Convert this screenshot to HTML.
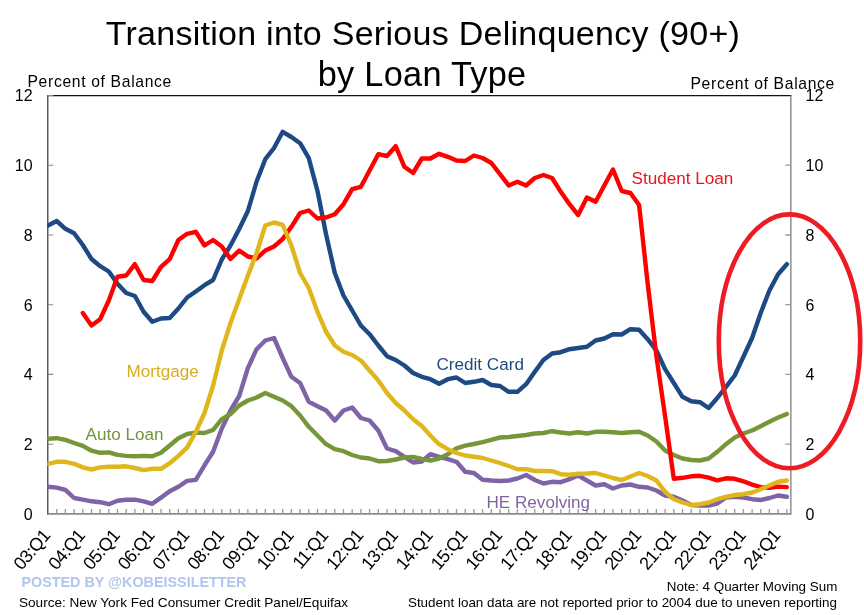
<!DOCTYPE html>
<html><head><meta charset="utf-8"><title>Transition into Serious Delinquency (90+) by Loan Type</title>
<style>html,body{margin:0;padding:0;background:#fff;}svg{display:block;}</style></head>
<body><svg width="864" height="615" viewBox="0 0 864 615">
<rect x="0" y="0" width="864" height="615" fill="#fff"/>
<line x1="47.75" y1="95.5" x2="791.5999999999999" y2="95.5" stroke="#141414" stroke-width="1.25"/>
<line x1="47.75" y1="94.9" x2="47.75" y2="514.6999999999999" stroke="#5a5a5a" stroke-width="1.5"/>
<line x1="790.8" y1="95.5" x2="790.8" y2="514.6999999999999" stroke="#999" stroke-width="1.7"/>
<line x1="47.75" y1="513.9" x2="790.8" y2="513.9" stroke="#8a8a8a" stroke-width="1.6"/>
<path d="M56.7 513.9v-5M65.4 513.9v-5M74.1 513.9v-5M82.8 513.9v-5M91.5 513.9v-5M100.2 513.9v-5M108.8 513.9v-5M117.5 513.9v-5M126.2 513.9v-5M134.9 513.9v-5M143.6 513.9v-5M152.3 513.9v-5M161.0 513.9v-5M169.7 513.9v-5M178.4 513.9v-5M187.1 513.9v-5M195.8 513.9v-5M204.5 513.9v-5M213.1 513.9v-5M221.8 513.9v-5M230.5 513.9v-5M239.2 513.9v-5M247.9 513.9v-5M256.6 513.9v-5M265.3 513.9v-5M274.0 513.9v-5M282.7 513.9v-5M291.4 513.9v-5M300.1 513.9v-5M308.8 513.9v-5M317.5 513.9v-5M326.1 513.9v-5M334.8 513.9v-5M343.5 513.9v-5M352.2 513.9v-5M360.9 513.9v-5M369.6 513.9v-5M378.3 513.9v-5M387.0 513.9v-5M395.7 513.9v-5M404.4 513.9v-5M413.1 513.9v-5M421.8 513.9v-5M430.4 513.9v-5M439.1 513.9v-5M447.8 513.9v-5M456.5 513.9v-5M465.2 513.9v-5M473.9 513.9v-5M482.6 513.9v-5M491.3 513.9v-5M500.0 513.9v-5M508.7 513.9v-5M517.4 513.9v-5M526.1 513.9v-5M534.8 513.9v-5M543.4 513.9v-5M552.1 513.9v-5M560.8 513.9v-5M569.5 513.9v-5M578.2 513.9v-5M586.9 513.9v-5M595.6 513.9v-5M604.3 513.9v-5M613.0 513.9v-5M621.7 513.9v-5M630.4 513.9v-5M639.1 513.9v-5M647.7 513.9v-5M656.4 513.9v-5M665.1 513.9v-5M673.8 513.9v-5M682.5 513.9v-5M691.2 513.9v-5M699.9 513.9v-5M708.6 513.9v-5M717.3 513.9v-5M726.0 513.9v-5M734.7 513.9v-5M743.4 513.9v-5M752.1 513.9v-5M760.7 513.9v-5M769.4 513.9v-5M778.1 513.9v-5M786.8 513.9v-5M790.8 444.2h-5.5M790.8 374.4h-5.5M790.8 304.7h-5.5M790.8 235.0h-5.5M790.8 165.2h-5.5" stroke="#999" stroke-width="1.3" fill="none"/>
<path d="M47.75 444.2h5.5M47.75 374.4h5.5M47.75 304.7h5.5M47.75 235.0h5.5M47.75 165.2h5.5M47.75 95.5h5.5" stroke="#888" stroke-width="1.1" fill="none"/>
<clipPath id="pc"><rect x="47.25" y="95.5" width="744.05" height="418.4"/></clipPath><g clip-path="url(#pc)">
<polyline points="48.0,486.8 56.7,487.6 65.4,489.9 74.1,498.0 82.8,499.7 91.5,501.3 100.2,502.2 108.8,504.2 117.5,500.7 126.2,499.7 134.9,499.7 143.6,501.3 152.3,503.8 161.0,497.6 169.7,491.3 178.4,486.8 187.1,480.9 195.8,479.9 204.5,465.3 213.1,451.8 221.8,428.5 230.5,410.5 239.2,396.0 247.9,368.0 256.6,349.2 265.3,340.5 274.0,338.0 282.7,358.0 291.4,376.8 300.1,383.0 308.8,401.8 317.5,406.2 326.1,410.5 334.8,420.5 343.5,410.5 352.2,407.5 360.9,418.0 369.6,420.5 378.3,430.5 387.0,448.5 395.7,451.2 404.4,456.8 413.1,462.5 421.8,461.5 430.4,454.2 439.1,456.8 447.8,459.2 456.5,461.8 465.2,471.8 473.9,473.0 482.6,479.8 491.3,480.5 500.0,481.0 508.7,480.5 517.4,478.5 526.1,475.0 534.8,480.0 543.4,483.5 552.1,481.8 560.8,482.2 569.5,479.2 578.2,475.5 586.9,480.5 595.6,485.5 604.3,484.2 613.0,488.5 621.7,485.5 630.4,484.5 639.1,486.8 647.7,487.5 656.4,490.5 665.1,495.5 673.8,496.8 682.5,500.5 691.2,505.0 699.9,505.5 708.6,505.5 717.3,503.5 726.0,497.5 734.7,496.8 743.4,497.5 752.1,499.2 760.7,500.0 769.4,498.0 778.1,495.5 786.8,496.8" fill="none" stroke="#7e63a6" stroke-width="4.4" stroke-linejoin="round" stroke-linecap="round"/>
<polyline points="48.0,438.8 56.7,438.2 65.4,439.9 74.1,443.0 82.8,445.9 91.5,450.7 100.2,452.8 108.8,452.4 117.5,454.9 126.2,455.9 134.9,456.3 143.6,455.9 152.3,456.3 161.0,452.8 169.7,445.5 178.4,438.2 187.1,434.0 195.8,432.6 204.5,433.0 213.1,429.9 221.8,419.2 230.5,414.2 239.2,405.5 247.9,400.5 256.6,397.5 265.3,393.0 274.0,396.8 282.7,400.5 291.4,406.2 300.1,415.5 308.8,426.8 317.5,435.5 326.1,444.2 334.8,449.2 343.5,451.2 352.2,455.0 360.9,457.5 369.6,458.5 378.3,461.2 387.0,461.0 395.7,459.5 404.4,457.5 413.1,457.0 421.8,459.0 430.4,460.5 439.1,458.5 447.8,454.2 456.5,448.3 465.2,445.7 473.9,444.0 482.6,442.2 491.3,439.8 500.0,437.5 508.7,437.0 517.4,436.0 526.1,435.0 534.8,433.5 543.4,433.0 552.1,431.2 560.8,432.5 569.5,433.5 578.2,432.2 586.9,433.5 595.6,431.8 604.3,431.8 613.0,432.2 621.7,433.0 630.4,432.2 639.1,431.8 647.7,435.5 656.4,441.5 665.1,450.5 673.8,455.0 682.5,458.5 691.2,460.0 699.9,460.5 708.6,458.5 717.3,451.8 726.0,444.2 734.7,437.5 743.4,433.5 752.1,430.5 760.7,426.2 769.4,421.8 778.1,417.5 786.8,414.0" fill="none" stroke="#769739" stroke-width="4.4" stroke-linejoin="round" stroke-linecap="round"/>
<polyline points="48.0,225.5 56.7,221.0 65.4,228.8 74.1,233.2 82.8,245.0 91.5,259.0 100.2,266.2 108.8,271.5 117.5,283.8 126.2,293.0 134.9,296.0 143.6,311.8 152.3,321.8 161.0,318.5 169.7,318.0 178.4,308.5 187.1,297.5 195.8,291.5 204.5,285.2 213.1,280.0 221.8,259.5 230.5,245.5 239.2,229.0 247.9,211.0 256.6,181.5 265.3,159.2 274.0,148.0 282.7,131.8 291.4,137.0 300.1,143.2 308.8,158.2 317.5,191.0 326.1,234.5 334.8,273.0 343.5,295.5 352.2,310.5 360.9,325.5 369.6,334.2 378.3,345.5 387.0,356.2 395.7,360.0 404.4,365.5 413.1,373.0 421.8,376.8 430.4,379.2 439.1,383.8 447.8,379.2 456.5,377.5 465.2,383.0 473.9,381.8 482.6,380.0 491.3,385.0 500.0,386.0 508.7,391.8 517.4,391.8 526.1,384.2 534.8,371.8 543.4,360.0 552.1,353.5 560.8,352.2 569.5,349.2 578.2,348.0 586.9,346.8 595.6,340.5 604.3,338.5 613.0,334.2 621.7,334.5 630.4,329.2 639.1,329.8 647.7,339.2 656.4,350.5 665.1,369.2 673.8,383.0 682.5,396.8 691.2,401.2 699.9,402.2 708.6,408.0 717.3,398.0 726.0,386.8 734.7,375.5 743.4,356.8 752.1,338.0 760.7,313.0 769.4,290.5 778.1,274.2 786.8,264.2" fill="none" stroke="#1e4a84" stroke-width="4.4" stroke-linejoin="round" stroke-linecap="round"/>
<polyline points="82.8,313.0 91.5,325.5 100.2,319.2 108.8,300.5 117.5,276.8 126.2,275.5 134.9,264.2 143.6,280.0 152.3,281.0 161.0,266.8 169.7,259.2 178.4,240.0 187.1,233.8 195.8,231.8 204.5,245.5 213.1,240.0 221.8,246.5 230.5,259.0 239.2,250.5 247.9,256.5 256.6,258.5 265.3,250.5 274.0,246.5 282.7,239.0 291.4,226.8 300.1,213.0 308.8,210.5 317.5,218.5 326.1,217.5 334.8,214.2 343.5,204.2 352.2,189.2 360.9,186.8 369.6,170.5 378.3,154.2 387.0,156.0 395.7,146.2 404.4,166.8 413.1,173.0 421.8,158.5 430.4,158.5 439.1,153.8 447.8,156.8 456.5,160.5 465.2,161.0 473.9,155.5 482.6,158.0 491.3,163.0 500.0,174.2 508.7,185.5 517.4,181.8 526.1,185.5 534.8,178.0 543.4,175.0 552.1,178.0 560.8,191.8 569.5,204.2 578.2,215.0 586.9,197.5 595.6,201.8 604.3,185.5 613.0,169.5 621.7,191.0 630.4,193.0 639.1,205.0 647.7,283.8 656.4,356.2 665.1,416.2 673.8,478.8 682.5,477.8 691.2,476.3 699.9,475.8 708.6,477.6 717.3,480.3 726.0,478.3 734.7,478.8 743.4,481.3 752.1,484.6 760.7,487.1 769.4,487.8 778.1,486.6 786.8,487.1" fill="none" stroke="#ff0000" stroke-width="4.4" stroke-linejoin="round" stroke-linecap="round"/>
<polyline points="48.0,463.8 56.7,461.8 65.4,461.8 74.1,463.8 82.8,467.4 91.5,469.5 100.2,467.4 108.8,466.8 117.5,466.8 126.2,466.3 134.9,468.0 143.6,470.1 152.3,468.8 161.0,468.8 169.7,463.2 178.4,455.9 187.1,447.6 195.8,432.0 204.5,413.0 213.1,385.5 221.8,350.5 230.5,323.0 239.2,299.2 247.9,275.5 256.6,253.0 265.3,225.5 274.0,222.5 282.7,224.8 291.4,245.5 300.1,273.0 308.8,288.0 317.5,311.8 326.1,331.8 334.8,345.5 343.5,351.8 352.2,355.0 360.9,360.5 369.6,370.5 378.3,380.5 387.0,393.0 395.7,403.0 404.4,410.5 413.1,419.2 421.8,426.0 430.4,435.5 439.1,444.2 447.8,449.2 456.5,453.0 465.2,455.5 473.9,456.8 482.6,458.0 491.3,460.5 500.0,463.0 508.7,466.0 517.4,469.2 526.1,469.2 534.8,471.0 543.4,471.0 552.1,471.2 560.8,474.2 569.5,474.8 578.2,473.8 586.9,473.5 595.6,473.0 604.3,475.5 613.0,478.0 621.7,480.0 630.4,476.5 639.1,473.0 647.7,476.0 656.4,480.5 665.1,491.8 673.8,499.2 682.5,502.5 691.2,505.0 699.9,504.2 708.6,502.5 717.3,499.2 726.0,496.8 734.7,495.0 743.4,494.2 752.1,492.5 760.7,489.2 769.4,485.5 778.1,481.8 786.8,480.5" fill="none" stroke="#dfb61b" stroke-width="4.4" stroke-linejoin="round" stroke-linecap="round"/>
</g>
<ellipse cx="789.5" cy="341.3" rx="70.7" ry="126.9" fill="none" stroke="#ed1c24" stroke-width="4.6"/>
<g font-family="'Liberation Sans', Arial, sans-serif" fill="#000">
<text x="422.9" y="44.9" font-size="34" letter-spacing="0.27" text-anchor="middle">Transition into Serious Delinquency (90+)</text>
<text x="422.1" y="85.7" font-size="34.3" letter-spacing="0.28" text-anchor="middle">by Loan Type</text>
<text x="27.5" y="87.4" font-size="15.7" letter-spacing="0.66">Percent of Balance</text>
<text x="690.5" y="88.6" font-size="15.7" letter-spacing="0.66">Percent of Balance</text>
<text x="32.6" y="519.8" font-size="16" text-anchor="end">0</text>
<text x="805.6" y="519.8" font-size="16">0</text>
<text x="32.6" y="450.1" font-size="16" text-anchor="end">2</text>
<text x="805.6" y="450.1" font-size="16">2</text>
<text x="32.6" y="380.3" font-size="16" text-anchor="end">4</text>
<text x="805.6" y="380.3" font-size="16">4</text>
<text x="32.6" y="310.6" font-size="16" text-anchor="end">6</text>
<text x="805.6" y="310.6" font-size="16">6</text>
<text x="32.6" y="240.9" font-size="16" text-anchor="end">8</text>
<text x="805.6" y="240.9" font-size="16">8</text>
<text x="32.6" y="171.1" font-size="16" text-anchor="end">10</text>
<text x="805.6" y="171.1" font-size="16">10</text>
<text x="32.6" y="101.4" font-size="16" text-anchor="end">12</text>
<text x="805.6" y="101.4" font-size="16">12</text>
<text transform="translate(51.0,536.2) rotate(-50)" font-size="18" letter-spacing="-0.7" text-anchor="end">03:Q1</text>
<text transform="translate(85.8,536.2) rotate(-50)" font-size="18" letter-spacing="-0.7" text-anchor="end">04:Q1</text>
<text transform="translate(120.5,536.2) rotate(-50)" font-size="18" letter-spacing="-0.7" text-anchor="end">05:Q1</text>
<text transform="translate(155.3,536.2) rotate(-50)" font-size="18" letter-spacing="-0.7" text-anchor="end">06:Q1</text>
<text transform="translate(190.1,536.2) rotate(-50)" font-size="18" letter-spacing="-0.7" text-anchor="end">07:Q1</text>
<text transform="translate(224.8,536.2) rotate(-50)" font-size="18" letter-spacing="-0.7" text-anchor="end">08:Q1</text>
<text transform="translate(259.6,536.2) rotate(-50)" font-size="18" letter-spacing="-0.7" text-anchor="end">09:Q1</text>
<text transform="translate(294.4,536.2) rotate(-50)" font-size="18" letter-spacing="-0.7" text-anchor="end">10:Q1</text>
<text transform="translate(329.1,536.2) rotate(-50)" font-size="18" letter-spacing="-0.7" text-anchor="end">11:Q1</text>
<text transform="translate(363.9,536.2) rotate(-50)" font-size="18" letter-spacing="-0.7" text-anchor="end">12:Q1</text>
<text transform="translate(398.7,536.2) rotate(-50)" font-size="18" letter-spacing="-0.7" text-anchor="end">13:Q1</text>
<text transform="translate(433.4,536.2) rotate(-50)" font-size="18" letter-spacing="-0.7" text-anchor="end">14:Q1</text>
<text transform="translate(468.2,536.2) rotate(-50)" font-size="18" letter-spacing="-0.7" text-anchor="end">15:Q1</text>
<text transform="translate(503.0,536.2) rotate(-50)" font-size="18" letter-spacing="-0.7" text-anchor="end">16:Q1</text>
<text transform="translate(537.8,536.2) rotate(-50)" font-size="18" letter-spacing="-0.7" text-anchor="end">17:Q1</text>
<text transform="translate(572.5,536.2) rotate(-50)" font-size="18" letter-spacing="-0.7" text-anchor="end">18:Q1</text>
<text transform="translate(607.3,536.2) rotate(-50)" font-size="18" letter-spacing="-0.7" text-anchor="end">19:Q1</text>
<text transform="translate(642.1,536.2) rotate(-50)" font-size="18" letter-spacing="-0.7" text-anchor="end">20:Q1</text>
<text transform="translate(676.8,536.2) rotate(-50)" font-size="18" letter-spacing="-0.7" text-anchor="end">21:Q1</text>
<text transform="translate(711.6,536.2) rotate(-50)" font-size="18" letter-spacing="-0.7" text-anchor="end">22:Q1</text>
<text transform="translate(746.4,536.2) rotate(-50)" font-size="18" letter-spacing="-0.7" text-anchor="end">23:Q1</text>
<text transform="translate(781.1,536.2) rotate(-50)" font-size="18" letter-spacing="-0.7" text-anchor="end">24:Q1</text>
<text x="631.5" y="183.75" font-size="17.1" fill="#e8151b">Student Loan</text>
<text x="436.5" y="370.1" font-size="17.1" fill="#1f497d">Credit Card</text>
<text x="126.5" y="376.7" font-size="17.1" fill="#d6ad22">Mortgage</text>
<text x="85.5" y="439.6" font-size="17.1" fill="#77933c">Auto Loan</text>
<text x="486.5" y="507.5" font-size="17.1" fill="#8064a2">HE Revolving</text>
<text x="21.5" y="586.7" font-size="14.35" font-weight="bold" fill="#b0c6ee">POSTED BY @KOBEISSILETTER</text>
<text x="19" y="606.7" font-size="13.58">Source: New York Fed Consumer Credit Panel/Equifax</text>
<text x="837.3" y="590.5" font-size="13.4" text-anchor="end">Note: 4 Quarter Moving Sum</text>
<text x="837" y="607" font-size="13.43" text-anchor="end">Student loan data are not reported prior to 2004 due to uneven reporting</text>
</g>
</svg></body></html>
